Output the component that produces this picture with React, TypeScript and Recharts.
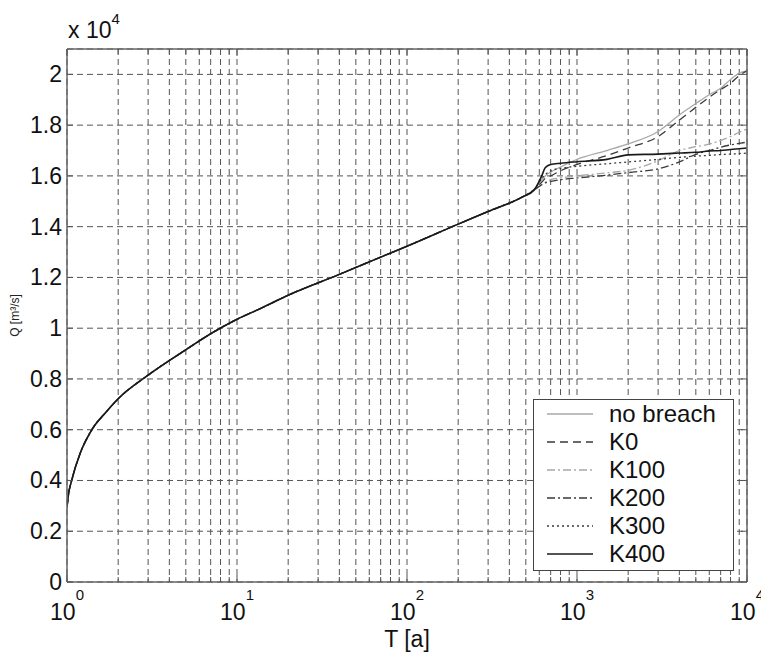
import { CartesianGrid, Legend, Line, LineChart, XAxis, YAxis } from 'recharts';

const FONT = '"Liberation Sans", Arial, sans-serif';

// T in years, Q in units of 10^4 m3/s
const commonT = [1, 1.023, 1.065, 1.2, 1.4, 1.7, 2, 3, 5, 7, 10, 14, 20, 40, 70, 100, 200, 300, 480];
const commonQ = [0.295, 0.35, 0.4, 0.51, 0.6, 0.67, 0.722, 0.815, 0.915, 0.978, 1.035, 1.08, 1.13, 1.212, 1.28, 1.323, 1.41, 1.46, 1.518];

const branchT = [560, 620, 650, 700, 800, 1000, 1500, 2000, 3000, 4000, 5000, 6000, 7000, 8000, 9000, 10000];
const noBreach = [1.545, 1.585, 1.6, 1.615, 1.635, 1.665, 1.7, 1.726, 1.775, 1.84, 1.885, 1.92, 1.945, 1.98, 2.005, 2.014];
const k0 = [1.545, 1.575, 1.59, 1.6, 1.62, 1.645, 1.68, 1.71, 1.755, 1.82, 1.87, 1.91, 1.94, 1.965, 1.995, 2.014];
const k100 = [1.545, 1.565, 1.575, 1.585, 1.592, 1.6, 1.612, 1.622, 1.66, 1.7, 1.715, 1.725, 1.74, 1.755, 1.772, 1.785];
const k200 = [1.545, 1.565, 1.572, 1.578, 1.585, 1.592, 1.603, 1.613, 1.628, 1.655, 1.685, 1.7, 1.713, 1.722, 1.728, 1.733];
const k300 = [1.545, 1.59, 1.605, 1.62, 1.63, 1.638, 1.648, 1.655, 1.665, 1.673, 1.678, 1.681, 1.684, 1.686, 1.688, 1.69];
const k400 = [1.545, 1.6, 1.632, 1.645, 1.65, 1.656, 1.665, 1.683, 1.686, 1.69, 1.693, 1.698, 1.7, 1.704, 1.707, 1.71];

const decadeTicks = [1, 10, 100, 1000, 10000];
const minorSteps = [1, 2, 3, 4, 5, 6, 7, 8, 9];
const yTicks = [0, 0.2, 0.4, 0.6, 0.8, 1, 1.2, 1.4, 1.6, 1.8, 2];

const xTicks = decadeTicks.slice(0, -1).flatMap((d) => minorSteps.map((m) => d * m)).concat([10000]);

const series = [
  { key: 'noBreach', name: 'no breach', values: noBreach, color: '#a8a8a8', dash: undefined, width: 1.3 },
  { key: 'K0', name: 'K0', values: k0, color: '#3a3a3a', dash: '8 5', width: 1.3 },
  { key: 'K100', name: 'K100', values: k100, color: '#a8a8a8', dash: '8 3 2 3', width: 1.3 },
  { key: 'K200', name: 'K200', values: k200, color: '#3a3a3a', dash: '8 3 2 3', width: 1.3 },
  { key: 'K300', name: 'K300', values: k300, color: '#3a3a3a', dash: '2 3', width: 1.3 },
  { key: 'K400', name: 'K400', values: k400, color: '#1a1a1a', dash: undefined, width: 1.6 },
];

const data = [
  ...commonT.map((t, i) => {
    const row: any = { T: t };
    series.forEach((s) => (row[s.key] = commonQ[i]));
    return row;
  }),
  ...branchT.map((t, i) => {
    const row: any = { T: t };
    series.forEach((s) => (row[s.key] = s.values[i]));
    return row;
  }),
];

const BottomTick = ({ x, y, payload }: any) => {
  const v = payload.value;
  const major = decadeTicks.includes(v);
  return (
    <g>
      <line x1={x} x2={x} y1={y} y2={y - (major ? 7 : 5)} stroke="#555" />
      {major && (
        <text x={x} y={y + 38} textAnchor="middle" fontSize={23} fontFamily={FONT} fill="#111">
          10
          <tspan dy={-20} fontSize={15}>{Math.round(Math.log10(v))}</tspan>
        </text>
      )}
    </g>
  );
};

const TopTick = ({ x, y, payload }: any) => {
  const major = decadeTicks.includes(payload.value);
  return <line x1={x} x2={x} y1={y} y2={y + (major ? 7 : 5)} stroke="#555" />;
};

const LeftTick = ({ x, y, payload }: any) => (
  <g>
    <line x1={x} x2={x + 6} y1={y} y2={y} stroke="#555" />
    <text x={x - 5} y={y + 8} textAnchor="end" fontSize={23} fontFamily={FONT} fill="#111">
      {String(Number(payload.value.toFixed(1)))}
    </text>
  </g>
);

const RightTick = ({ x, y }: any) => <line x1={x} x2={x - 6} y1={y} y2={y} stroke="#555" />;

const LegendBox = () => (
  <svg width={202} height={173} style={{ display: 'block' }}>
    <rect x={0.5} y={0.5} width={200} height={171} fill="#fff" stroke="#444" />
    {series.map((s, i) => {
      const cy = 15 + i * 28;
      return (
        <g key={s.key}>
          <line x1={14} x2={60} y1={cy} y2={cy} stroke={s.color} strokeWidth={s.width} strokeDasharray={s.dash} />
          <text x={76} y={cy + 8} fontSize={24} fontFamily={FONT} fill="#111">
            {s.name}
          </text>
        </g>
      );
    })}
  </svg>
);

export default function App() {
  return (
    <div style={{ position: 'absolute', left: 0, top: 0, background: '#fff' }}>
      <LineChart width={761} height={653} data={data} margin={{ top: 39, right: 4, bottom: 41, left: 7 }}>
        <CartesianGrid stroke="#555" strokeDasharray="6 4" />
        <XAxis
          dataKey="T"
          type="number"
          scale="log"
          domain={[1, 10000]}
          allowDataOverflow
          ticks={xTicks}
          interval={0}
          height={30}
          tickSize={0}
          tickMargin={0}
          tickLine={false}
          tick={<BottomTick />}
          axisLine={{ stroke: '#666', strokeWidth: 1.5 }}
          label={{
            content: ({ viewBox }: any) => (
              <text x={viewBox.x + viewBox.width / 2} y={647} textAnchor="middle" fontSize={23} fontFamily={FONT} fill="#111">
                T [a]
              </text>
            ),
          }}
        />
        <XAxis
          xAxisId="top"
          orientation="top"
          dataKey="T"
          type="number"
          scale="log"
          domain={[1, 10000]}
          allowDataOverflow
          ticks={xTicks}
          interval={0}
          height={10}
          tickSize={0}
          tickMargin={0}
          tickLine={false}
          tick={<TopTick />}
          axisLine={{ stroke: '#666', strokeWidth: 1.5 }}
          label={{
            content: ({ viewBox }: any) => (
              <text x={viewBox.x + 1} y={38} fontSize={23} fontFamily={FONT} fill="#111">
                x 10
                <tspan dy={-14} fontSize={15}>4</tspan>
              </text>
            ),
          }}
        />
        <YAxis
          type="number"
          domain={[0, 2.1]}
          allowDataOverflow
          ticks={yTicks}
          interval={0}
          width={60}
          tickSize={0}
          tickMargin={0}
          tickLine={false}
          tick={<LeftTick />}
          axisLine={{ stroke: '#666', strokeWidth: 1.5 }}
          label={{
            content: ({ viewBox }: any) => {
              const cx = viewBox.x + 8;
              const cy = viewBox.y + viewBox.height / 2;
              return (
                <text x={cx} y={cy} transform={`rotate(-90, ${cx}, ${cy})`} textAnchor="middle" dominantBaseline="central" fontSize={12} fontFamily={FONT} fill="#222">
                  Q [m³/s]
                </text>
              );
            },
          }}
        />
        <YAxis
          yAxisId="right"
          orientation="right"
          type="number"
          domain={[0, 2.1]}
          allowDataOverflow
          ticks={yTicks}
          interval={0}
          width={10}
          tickSize={0}
          tickMargin={0}
          tickLine={false}
          tick={<RightTick />}
          axisLine={{ stroke: '#666', strokeWidth: 1.5 }}
        />
        <Legend
          layout="vertical"
          align="center"
          verticalAlign="middle"
          content={<LegendBox />}
          wrapperStyle={{ position: 'absolute', left: 533, top: 399, width: 202, height: 173 }}
        />
        {series.map((s) => (
          <Line
            key={s.key}
            dataKey={s.key}
            name={s.name}
            type="monotone"
            stroke={s.color}
            strokeWidth={s.width}
            strokeDasharray={s.dash}
            dot={false}
            activeDot={false}
            isAnimationActive={false}
          />
        ))}
      </LineChart>
    </div>
  );
}
